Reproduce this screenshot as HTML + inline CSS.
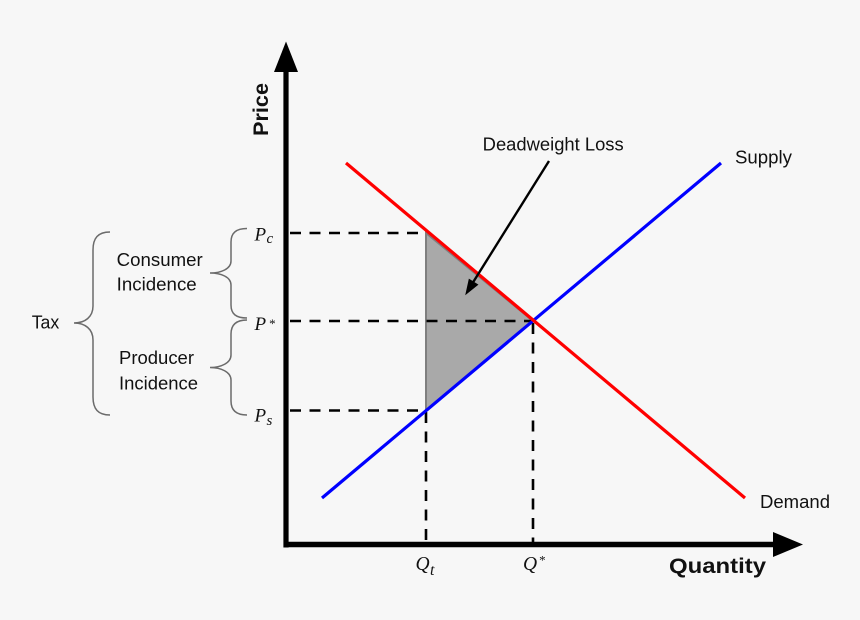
<!DOCTYPE html>
<html>
<head>
<meta charset="utf-8">
<style>
  html, body { margin:0; padding:0; background:#f7f7f7; }
  svg { display:block; }
  .sans { font-family: "Liberation Sans", sans-serif; fill:#111; }
  .math { font-family: "Liberation Serif", serif; font-style: italic; fill:#111; }
</style>
</head>
<body>
<svg width="860" height="620" viewBox="0 0 860 620" xmlns="http://www.w3.org/2000/svg">
  <rect width="860" height="620" fill="#f7f7f7"/>

  <!-- Deadweight loss triangle -->
  <polygon points="426,233 533,321 426,410.5" fill="#a9a9a9" stroke="#7f7f7f" stroke-width="2"/>

  <!-- Dashed guide lines -->
  <g stroke="#000" stroke-width="2.6" stroke-dasharray="11 8.5" fill="none">
    <line x1="290" y1="233" x2="426" y2="233"/>
    <line x1="290" y1="321" x2="533" y2="321"/>
    <line x1="290" y1="410.5" x2="426" y2="410.5"/>
    <line x1="426" y1="412" x2="426" y2="542"/>
    <line x1="533" y1="323" x2="533" y2="542"/>
  </g>

  <!-- Supply (blue) -->
  <line x1="322" y1="498" x2="721" y2="163" stroke="#0000ff" stroke-width="3.2"/>
  <!-- Demand (red) -->
  <line x1="346" y1="163" x2="745" y2="498" stroke="#ff0000" stroke-width="3.2"/>

  <!-- Axes -->
  <line x1="286" y1="70" x2="286" y2="547.5" stroke="#000" stroke-width="5.2"/>
  <polygon points="274,72 286,41.5 298,72" fill="#000"/>
  <line x1="283.5" y1="544.5" x2="776" y2="544.5" stroke="#000" stroke-width="5.5"/>
  <polygon points="773,532 803,544.5 773,557" fill="#000"/>

  <!-- Deadweight loss arrow -->
  <line x1="549" y1="161" x2="472" y2="284" stroke="#000" stroke-width="2.4"/>
  <polygon points="466,294 477.6,284.7 469.2,279.4" fill="#000" stroke="#000" stroke-width="1"/>

  <!-- Braces -->
  <g stroke="#6b6b6b" stroke-width="1.5" fill="none">
    <path d="M110,232 C98,232 93,238 93,250 L93,306 C93,317 85,323 74,323 C85,323 93,329 93,340 L93,397 C93,409 98,415 110,415"/>
    <path d="M247,228.5 C236,228.5 231,233 231,242 L231,261 C231,269 221,273 210,273 C221,273 231,277 231,285 L231,305 C231,314 236,318 247,318"/>
    <path d="M247,320 C236,320 231,325 231,334 L231,355 C231,363 221,367.5 210,367.5 C221,367.5 231,372 231,380 L231,401 C231,410 236,415 247,415"/>
  </g>

  <!-- Text labels -->
  <text class="sans" x="482.7" y="150.7" font-size="18" textLength="141" lengthAdjust="spacingAndGlyphs">Deadweight Loss</text>
  <text class="sans" x="735" y="163.3" font-size="18" textLength="57" lengthAdjust="spacingAndGlyphs">Supply</text>
  <text class="sans" x="760" y="508" font-size="18" textLength="70" lengthAdjust="spacingAndGlyphs">Demand</text>
  <text class="sans" x="31.7" y="328.3" font-size="18" textLength="27.6" lengthAdjust="spacingAndGlyphs">Tax</text>
  <text class="sans" x="116.7" y="266" font-size="18" textLength="86" lengthAdjust="spacingAndGlyphs">Consumer</text>
  <text class="sans" x="116.7" y="290.7" font-size="18" textLength="80" lengthAdjust="spacingAndGlyphs">Incidence</text>
  <text class="sans" x="119" y="364" font-size="18" textLength="75" lengthAdjust="spacingAndGlyphs">Producer</text>
  <text class="sans" x="119" y="389.3" font-size="18" textLength="79" lengthAdjust="spacingAndGlyphs">Incidence</text>

  <text class="sans" font-weight="bold" font-size="21" textLength="53" lengthAdjust="spacingAndGlyphs" transform="translate(268,136) rotate(-90)">Price</text>
  <text class="sans" font-weight="bold" x="669" y="573" font-size="21" textLength="97" lengthAdjust="spacingAndGlyphs">Quantity</text>

  <!-- Math labels -->
  <text class="math" x="254.5" y="240.5" font-size="19">P</text>
  <text class="math" x="266.5" y="243" font-size="15">c</text>

  <text class="math" x="254.5" y="330" font-size="19">P</text>
  <text class="math" x="268.5" y="328" font-size="13">*</text>

  <text class="math" x="254.5" y="421.5" font-size="19">P</text>
  <text class="math" x="266.5" y="425" font-size="15">s</text>

  <text class="math" x="415.5" y="570" font-size="19.5">Q</text>
  <text class="math" x="430" y="575" font-size="16">t</text>

  <text class="math" x="523" y="570" font-size="19.5">Q</text>
  <text class="math" x="538.5" y="564.5" font-size="13">*</text>
</svg>
</body>
</html>
